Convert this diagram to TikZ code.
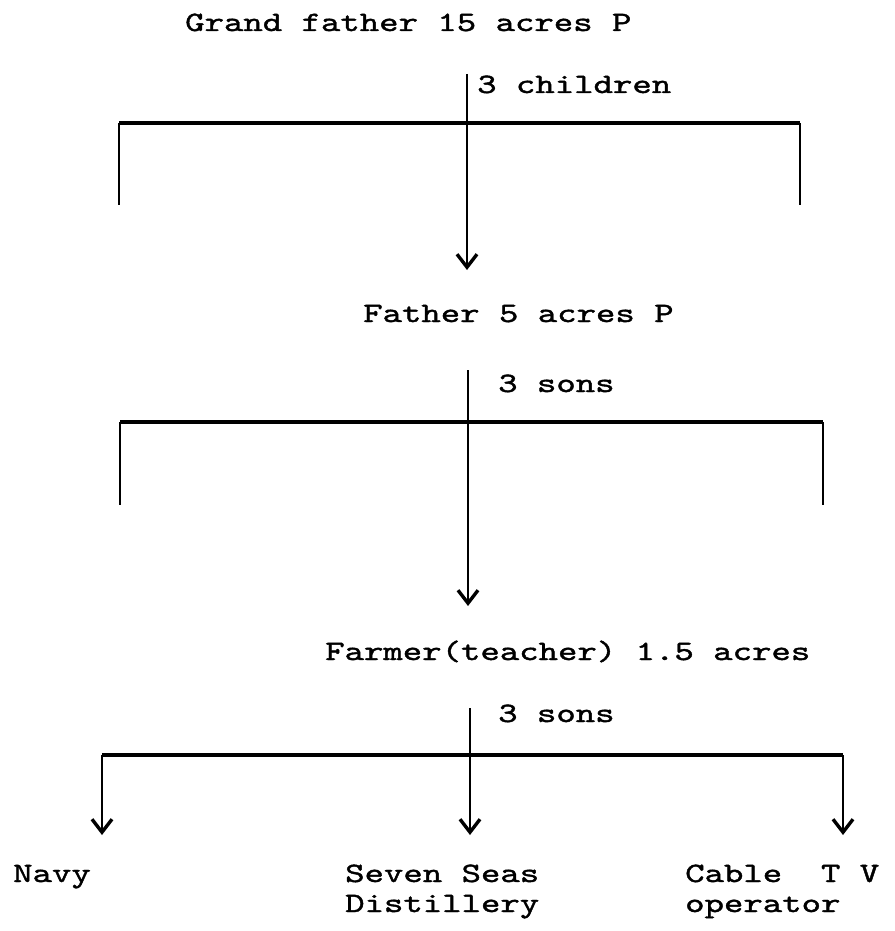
\documentclass[tikz,border=0pt]{standalone}
\usepackage{fontspec}
\newfontfamily\tw[FakeStretch=1.32,FakeBold=1.4]{lmmono10-regular.otf}
\usetikzlibrary{arrows.meta}
\tikzset{
  lbl/.style={anchor=base west, inner sep=0pt, align=left,
    font=\tw\fontsize{28}{30}\selectfont},
  ln/.style={line width=2.8pt, black},
  bar/.style={line width=3.4pt, black},
  arr/.style={ln, -{Straight Barb[length=13pt,width=20pt,line width=3.4pt]}}
}
\begin{document}
\begin{tikzpicture}[x=1pt,y=-1pt]
\useasboundingbox (0,0) rectangle (894,931);
% texts
\node[lbl] (gf) at (185,31) {Grand father 15 acres P};
\node[lbl] (ch1) at (477,93) {3 children};
\node[lbl] (fa) at (363,322) {Father 5 acres P};
\node[lbl] (s2) at (498,392) {3 sons};
\node[lbl] (fm) at (325,660) {Farmer(teacher) 1.5 acres};
\node[lbl] (s3) at (498,722) {3 sons};
\node[lbl] (navy) at (13,882) {Navy};
\node[lbl] (seven) at (345,912) {Seven Seas\\Distillery};
\node[lbl] (cable) at (685,912) {Cable\ \ T V\\operator};
% level 1
\coordinate (t1) at (467,74);
\coordinate (a1) at (467,270);
\coordinate (b1l) at (119,123);
\coordinate (b1r) at (800,123);
\coordinate (d1l) at (119,205);
\coordinate (d1r) at (800,205);
\draw[arr] (t1) -- (a1);
\draw[bar] (b1l) -- (b1r);
\draw[ln] (b1l) -- (d1l);
\draw[ln] (b1r) -- (d1r);
% level 2
\coordinate (t2) at (468,370);
\coordinate (a2) at (468,606);
\coordinate (b2l) at (120,422);
\coordinate (b2r) at (823,422);
\coordinate (d2l) at (120,505);
\coordinate (d2r) at (823,505);
\draw[arr] (t2) -- (a2);
\draw[bar] (b2l) -- (b2r);
\draw[ln] (b2l) -- (d2l);
\draw[ln] (b2r) -- (d2r);
% level 3
\coordinate (t3) at (470,708);
\coordinate (j3) at (470,755);
\coordinate (b3l) at (102,755);
\coordinate (b3r) at (843,755);
\coordinate (a3l) at (102,835);
\coordinate (a3m) at (470,835);
\coordinate (a3r) at (843,835);
\draw[ln] (t3) -- (j3);
\draw[bar] (b3l) -- (b3r);
\draw[arr] (b3l) -- (a3l);
\draw[arr] (j3) -- (a3m);
\draw[arr] (b3r) -- (a3r);
\end{tikzpicture}
\end{document}
